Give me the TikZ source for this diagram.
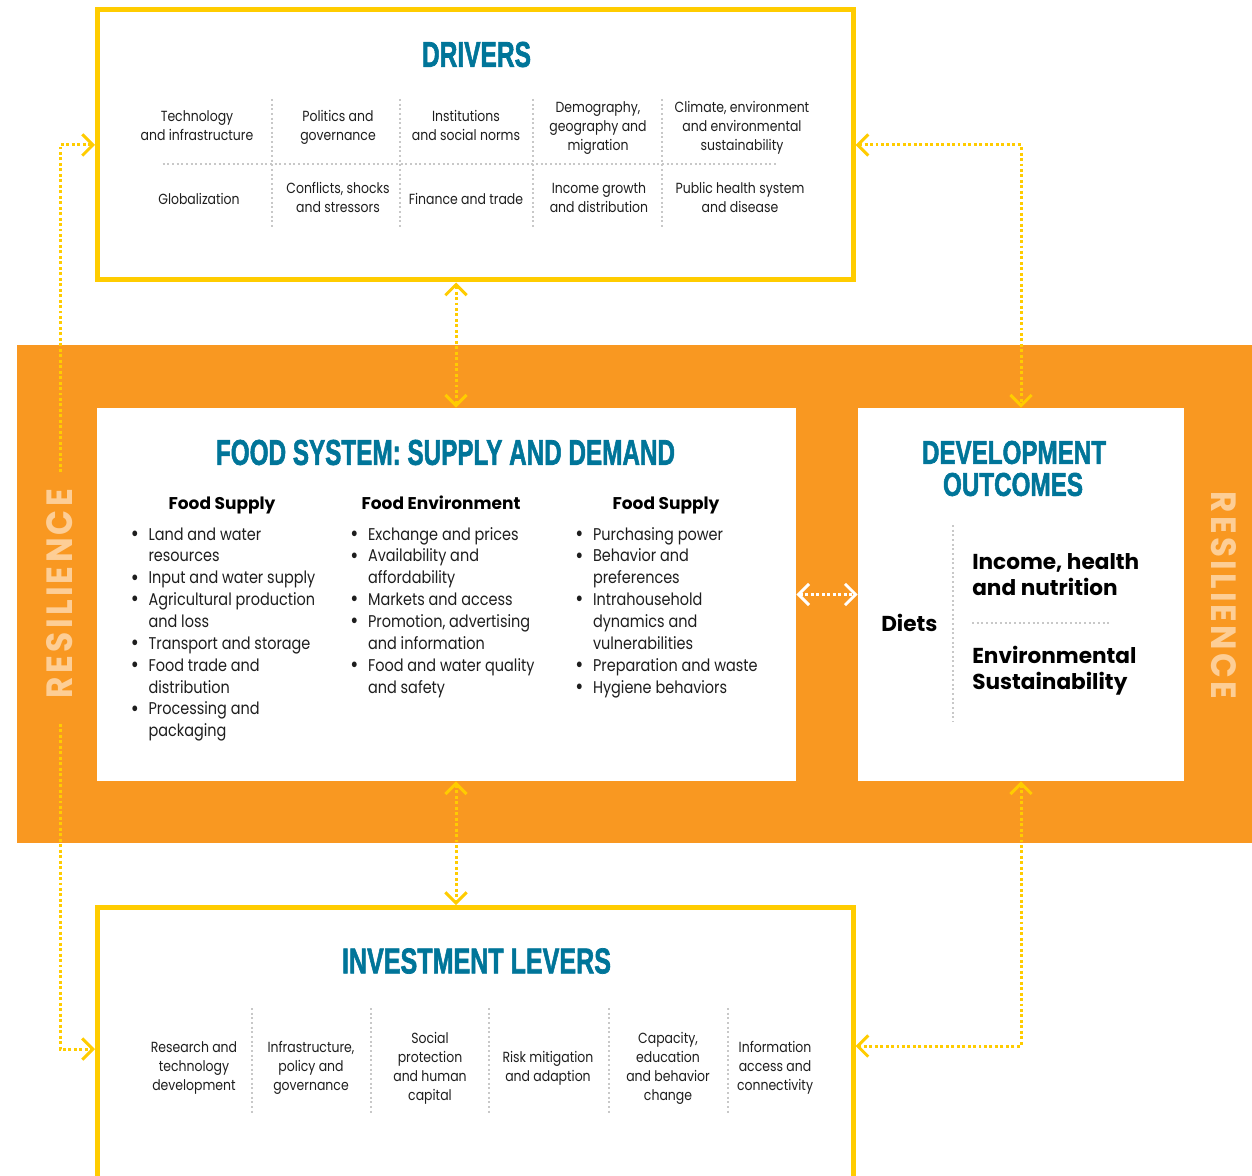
\documentclass[tikz,border=0pt]{standalone}
\usepackage{fontspec}
\usepackage{graphicx}
\setmainfont{Poppins}[FakeStretch=0.85]
\newfontfamily\hfont{Poppins}
\newfontfamily\tfont{Liberation Sans}[BoldFeatures={FakeBold=2}]
\usetikzlibrary{arrows.meta,fit,calc}
\definecolor{fyellow}{RGB}{255,204,0}
\definecolor{forange}{RGB}{249,152,33}
\definecolor{fteal}{RGB}{0,117,153}
\definecolor{fgrey}{RGB}{200,200,200}
\definecolor{fpeach}{RGB}{253,206,150}
\definecolor{ftext}{RGB}{30,30,30}
\newcommand\bul{\makebox[13.35pt][l]{\raisebox{-0.15ex}{\scalebox{1.35}{\textbullet}}}}
\newcommand\resword{R\kern1pt E\kern1pt S\kern1pt I\kern1pt L\kern1pt I\kern1pt E\kern1pt N\kern1pt C\kern1pt E}
\tikzset{
  ybox/.style={draw=fyellow, line width=3.75pt, inner sep=0pt},
  wbox/.style={fill=white, inner sep=0pt},
  obox/.style={fill=forange, inner sep=0pt},
  ylink/.style={draw=fyellow, line width=2.25pt, dash pattern=on 2.2pt off 1.9pt},
  wlink/.style={draw=white, line width=2.25pt, dash pattern=on 2.2pt off 1.9pt},
  ytip/.style={-{Straight Barb[length=8pt,width=16pt]}},
  both/.style={{Straight Barb[length=8pt,width=16pt]}-{Straight Barb[length=8pt,width=16pt]}},
  dsep/.style={draw=fgrey, line width=1.5pt, dash pattern=on 1.5pt off 2pt},
  ttl/.style={inner sep=0pt, text=fteal, font=\tfont\bfseries},
  dtext/.style={align=center, text=ftext, inner sep=0pt, font=\fontsize{11}{14.25}\selectfont,
    execute at begin node=\strut, execute at end node=\strut},
  ltext/.style={text=ftext, inner sep=0pt, font=\fontsize{12.75}{16.4}\selectfont},
  hd/.style={text=black, inner sep=0pt, anchor=base, font=\hfont\bfseries\fontsize{12.75}{15}\selectfont},
  dbold/.style={text=black, inner sep=0pt, font=\hfont\bfseries\fontsize{16.2}{19.8}\selectfont},
  res/.style={text=fpeach, inner sep=0pt, font=\hfont\bfseries}
}
\begin{document}
\begin{tikzpicture}[x=0.75pt,y=-0.75pt]
\useasboundingbox (0,0) rectangle (1252,1176);
\clip (0,0) rectangle (1252,1176);
\fill[white] (0,0) rectangle (1252,1176);

% boxes
\node[obox, fit={(17,345) (1260,843)}] (band) {};
\node[wbox, fit={(97,408) (796,781)}] (food) {};
\node[wbox, fit={(858,408) (1184,781)}] (dev) {};
\node[ybox, fit={(97.5,10) (853,280)}] (drivers) {};
\node[ybox, fit={(97.5,907.5) (853,1240)}] (invest) {};

% titles
\node[ttl] (tdrv) at (476.5,54.5) {\resizebox{81.75pt}{18.75pt}{DRIVERS}};
\node[ttl] (tfood) at (445.5,452.5) {\resizebox{344.25pt}{18.75pt}{FOOD SYSTEM: SUPPLY AND DEMAND}};
\node[ttl] (tdev1) at (1014,452.5) {\resizebox{138pt}{17.25pt}{DEVELOPMENT}};
\node[ttl] (tdev2) at (1013,484.5) {\resizebox{105pt}{17.25pt}{OUTCOMES}};
\node[ttl] (tinv) at (476.5,961) {\resizebox{201.75pt}{18.75pt}{INVESTMENT LEVERS}};

% resilience
\node[res, rotate=90] (resl) at (60,593.5) {\resizebox{156.75pt}{19.5pt}{\resword}};
\node[res, rotate=-90] (resr) at (1224,595.5) {\resizebox{155.25pt}{18.75pt}{\resword}};

% drivers grid
\draw[dsep] (162.7,164) -- (776,164);
\foreach \xx in {271.7,400,533.3,662.3} \draw[dsep] (\xx,99) -- (\xx,229);
\node[dtext] (d1) at (197,128.7) {Technology\\and infrastructure};
\node[dtext] (d2) at (338,128.7) {Politics and\\governance};
\node[dtext] (d3) at (466,128.7) {Institutions\\and social norms};
\node[dtext] (d4) at (598,128.7) {Demography,\\geography and\\migration};
\node[dtext] (d5) at (742,128.7) {Climate, environment\\and environmental\\sustainability};
\node[dtext] (d6) at (199,200.7) {Globalization};
\node[dtext] (d7) at (338,200.7) {Conflicts, shocks\\and stressors};
\node[dtext] (d8) at (466,200.7) {Finance and trade};
\node[dtext] (d9) at (599,200.7) {Income growth\\and distribution};
\node[dtext] (d10) at (740,200.7) {Public health system\\and disease};

% food system
\node[hd] (h1) at (222,509.5) {Food Supply};
\node[hd] (h2) at (441,509.5) {Food Environment};
\node[hd] (h3) at (666,509.5) {Food Supply};
\node[ltext, anchor=base west] (l1) at (130.5,540) {\begin{tabular}[t]{@{}l@{}l@{}}
\bul&Land and water\\&resources\\
\bul&Input and water supply\\
\bul&Agricultural production\\&and loss\\
\bul&Transport and storage\\
\bul&Food trade and\\&distribution\\
\bul&Processing and\\&packaging\end{tabular}};
\node[ltext, anchor=base west] (l2) at (350,540) {\begin{tabular}[t]{@{}l@{}l@{}}
\bul&Exchange and prices\\
\bul&Availability and\\&affordability\\
\bul&Markets and access\\
\bul&Promotion, advertising\\&and information\\
\bul&Food and water quality\\&and safety\end{tabular}};
\node[ltext, anchor=base west] (l3) at (575,540) {\begin{tabular}[t]{@{}l@{}l@{}}
\bul&Purchasing power\\
\bul&Behavior and\\&preferences\\
\bul&Intrahousehold\\&dynamics and\\&vulnerabilities\\
\bul&Preparation and waste\\
\bul&Hygiene behaviors\end{tabular}};

% development outcomes
\draw[dsep] (952.7,525) -- (952.7,722);
\draw[dsep] (972,622.7) -- (1110,622.7);
\node[dbold, anchor=base west] (diets) at (881,631.7) {Diets};
\node[dbold, anchor=base west] (o1) at (972,569.3) {\begin{tabular}[t]{@{}l@{}}Income, health\\and nutrition\end{tabular}};
\node[dbold, anchor=base west] (o2) at (972,663.3) {\begin{tabular}[t]{@{}l@{}}Environmental\\Sustainability\end{tabular}};

% investment levers
\foreach \xx in {252.3,370.7,489,608.5,727.7} \draw[dsep] (\xx,1008) -- (\xx,1115);
\node[dtext] (i1) at (194,1069.2) {Research and\\technology\\development};
\node[dtext] (i2) at (311,1069.2) {Infrastructure,\\policy and\\governance};
\node[dtext] (i3) at (430,1069.2) {Social\\protection\\and human\\capital};
\node[dtext] (i4) at (548,1069.2) {Risk mitigation\\and adaption};
\node[dtext] (i5) at (668,1069.2) {Capacity,\\education\\and behavior\\change};
\node[dtext] (i6) at (775,1069.2) {Information\\access and\\connectivity};

% connectors
\coordinate (lt) at (60,472);
\coordinate (lb) at (60,724);
\coordinate (mx) at (456,0);
\coordinate (ly) at (0,1049);
\coordinate (ry) at (0,1046);
\draw[ylink, ytip] (lt) |- (drivers.west);
\draw[ylink, ytip] (lb) |- (invest.west |- ly);
\draw[ylink, both] (drivers.east) -| (dev.north);
\draw[ylink, both] (dev.south) |- (invest.east |- ry);
\draw[ylink, both] (drivers.south -| mx) -- (food.north -| mx);
\draw[ylink, both] (food.south -| mx) -- (invest.north -| mx);
\draw[wlink, both] (food.east) -- (dev.west);
\end{tikzpicture}
\end{document}
